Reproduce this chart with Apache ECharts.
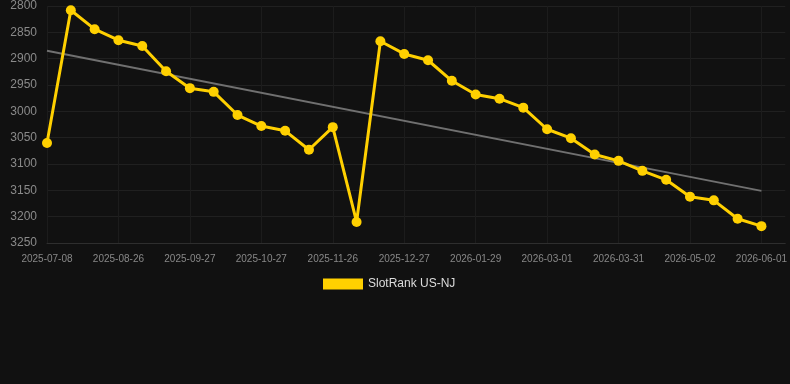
<!DOCTYPE html>
<html><head><meta charset="utf-8">
<script src="https://cdn.jsdelivr.net/npm/echarts@6/dist/echarts.min.js"></script>
<style>html,body{margin:0;padding:0;background:#111111;}#c{width:790px;height:384px;}</style>
</head><body><div id="c"></div>
<script>
const dates = ['2025-07-08','2025-07-25','2025-08-10','2025-08-26','2025-09-05','2025-09-16','2025-09-27','2025-10-07','2025-10-17','2025-10-27','2025-11-06','2025-11-16','2025-11-26','2025-12-06','2025-12-17','2025-12-27','2026-01-07','2026-01-18','2026-01-29','2026-02-08','2026-02-19','2026-03-01','2026-03-11','2026-03-21','2026-03-31','2026-04-11','2026-04-22','2026-05-02','2026-05-12','2026-05-22','2026-06-01'];
const rankValues = [3060,2808,2844,2865,2876,2924,2956,2963,3007,3028,3037,3073,3030,3210,2867,2891,2903,2942,2968,2976,2993,3034,3051,3082,3094,3113,3130,3162,3169,3204,3218];
const trendEnds = [2885,3151];
const yTicks = {min:2800,max:3250,interval:50};
const seriesName = 'SlotRank US-NJ';

// one empty trailing slot so the plot area runs on past the last date
const categories = dates.concat(['']);
const trendData = dates.map((d,i)=> i===0 ? trendEnds[0] : (i===dates.length-1 ? trendEnds[1] : null));

const chart = echarts.init(document.getElementById('c'), null, {renderer:'canvas'});
chart.setOption({
  backgroundColor:'#111111',
  animation:false,
  grid:{left:47,right:4,top:6,bottom:141},
  legend:{
    data:[seriesName],
    left:318, top:273,
    itemWidth:40, itemHeight:11, itemGap:10,
    icon:'rect',
    textStyle:{color:'#dddddd',fontSize:12,fontFamily:'Liberation Sans, Arial, sans-serif'}
  },
  xAxis:{
    type:'category', data:categories, boundaryGap:false,
    axisLine:{show:true,lineStyle:{color:'#2e2e2e'}},
    axisTick:{show:false},
    axisLabel:{interval:2,color:'#888888',fontSize:10,margin:11,fontFamily:'Liberation Sans, Arial, sans-serif'},
    splitLine:{show:true,interval:2,lineStyle:{color:'#1c1c1c',width:1}}
  },
  yAxis:{
    type:'value', inverse:true, min:yTicks.min, max:yTicks.max, interval:yTicks.interval,
    axisLine:{show:false}, axisTick:{show:false},
    axisLabel:{color:'#8a8a8a',fontSize:12,margin:10,formatter:v=>String(v),fontFamily:'Liberation Sans, Arial, sans-serif'},
    splitLine:{show:true,lineStyle:{color:'#202020',width:1}}
  },
  series:[
    {
      name:'trend', type:'line', data:trendData, connectNulls:true,
      showSymbol:false, symbol:'none', silent:true,
      lineStyle:{color:'#707070',width:2}, z:1
    },
    {
      name:seriesName, type:'line', data:rankValues,
      symbol:'circle', symbolSize:10, showAllSymbol:true,
      itemStyle:{color:'#FFD000'},
      lineStyle:{color:'#FFD000',width:3}, z:2
    }
  ]
});
</script></body></html>
